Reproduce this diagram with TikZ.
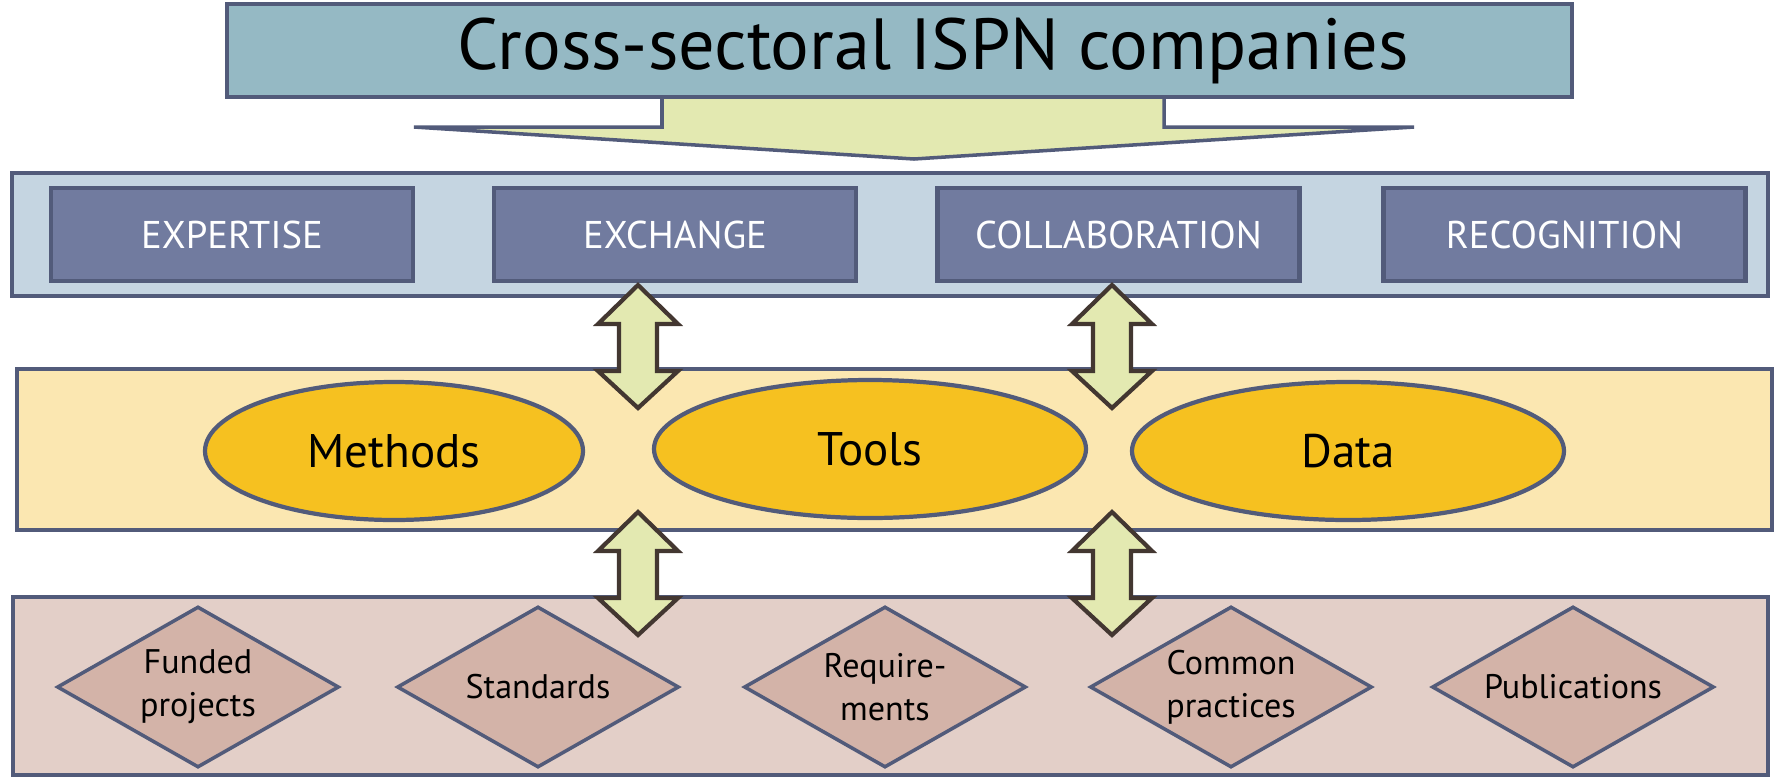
\documentclass[tikz,border=0pt]{standalone}
\usepackage{fontspec}
\setmainfont{PT Sans}
\usetikzlibrary{shapes.geometric,positioning,calc}
\definecolor{frameblue}{HTML}{525B7A}
\definecolor{titlefill}{HTML}{95B9C4}
\definecolor{arrowfill}{HTML}{E3E9B1}
\definecolor{arrowline}{HTML}{433731}
\definecolor{bandblue}{HTML}{C5D5E1}
\definecolor{boxfill}{HTML}{717B9F}
\definecolor{bandyellow}{HTML}{FBE7B1}
\definecolor{ovalfill}{HTML}{F6C120}
\definecolor{bandred}{HTML}{E3CFC8}
\definecolor{diamfill}{HTML}{D3B3A8}

\begin{document}
\begin{tikzpicture}[
    layer/.style={draw=frameblue, line width=1pt},
    keybox/.style={draw=frameblue, line width=1.2pt, fill=boxfill, text=white,
      minimum width=3.62cm, minimum height=0.93cm, inner sep=0pt,
      font=\fontsize{11}{13}\selectfont},
    oval/.style={ellipse, draw=frameblue, line width=1.2pt, fill=ovalfill,
      minimum height=1.38cm, inner sep=0pt, font=\fontsize{13.4}{16}\selectfont},
    rhomb/.style={diamond, aspect=1.75, draw=frameblue, line width=1pt, fill=diamfill,
      minimum width=2.82cm, minimum height=1.61cm, inner sep=0pt, align=center,
      font=\fontsize{9.7}{12.2}\selectfont},
    updown/.style={draw=arrowline, line width=1.2pt, fill=arrowfill, line join=miter}
  ]
  \useasboundingbox (0,0) rectangle (17.75,7.78);

  % Top: companies and the big arrow
  \draw[layer, fill=arrowfill] (6.62,6.81) -- (6.62,6.51) -- (4.14,6.51) -- (9.14,6.19)
    -- (14.14,6.51) -- (11.64,6.51) -- (11.64,6.81);
  \node[layer, fill=titlefill, minimum width=13.45cm, minimum height=0.93cm, inner sep=0pt]
    (title) at (8.995,7.275) {};
  \node[anchor=base, inner sep=0pt, font=\fontsize{20.6}{24}\selectfont]
    (titletext) at (9.33,7.09) {Cross-sectoral ISPN companies};

  % Layer 1
  \draw[layer, fill=bandblue] (0.12,4.82) rectangle (17.68,6.05);
  \node[keybox] (expertise) at (2.32,5.435) {EXPERTISE};
  \node[keybox] (exchange) at (6.75,5.435) {EXCHANGE};
  \node[keybox] (collab) at (11.185,5.435) {COLLABORATION};
  \node[keybox] (recogn) at (15.645,5.435) {RECOGNITION};

  % Layer 2
  \draw[layer, fill=bandyellow] (0.17,2.48) rectangle (17.72,4.09);
  \node[oval, minimum width=3.78cm] (methods) at (3.94,3.27) {Methods};
  \node[oval, minimum width=4.32cm] (tools) at (8.70,3.29) {Tools};
  \node[oval, minimum width=4.32cm] (data) at (13.48,3.27) {Data};

  % Layer 3
  \draw[layer, fill=bandred] (0.13,0.03) rectangle (17.68,1.81);
  \node[rhomb] (funded) at (1.98,0.91) {Funded\\projects};
  \node[rhomb] (standards) at (5.38,0.91) {Standards};
  \node[rhomb] (requirements) at (8.85,0.91) {Require-\\ments};
  \node[rhomb] (practices) at (12.31,0.91) {Common\\practices};
  \node[rhomb] (publications) at (15.73,0.91) {Publications};

  % Double arrows between layers
  \foreach \ay in {0,-2.27}
    \foreach \ax in {6.38,11.12}
      \draw[updown, yshift=\ay cm] (\ax,4.93) -- ++(0.40,-0.39) -- ++(-0.21,0)
        -- ++(0,-0.47) -- ++(0.21,0) -- (\ax,3.70) -- ++(-0.40,0.37) -- ++(0.21,0)
        -- ++(0,0.47) -- ++(-0.21,0) -- cycle;
\end{tikzpicture}
\end{document}
